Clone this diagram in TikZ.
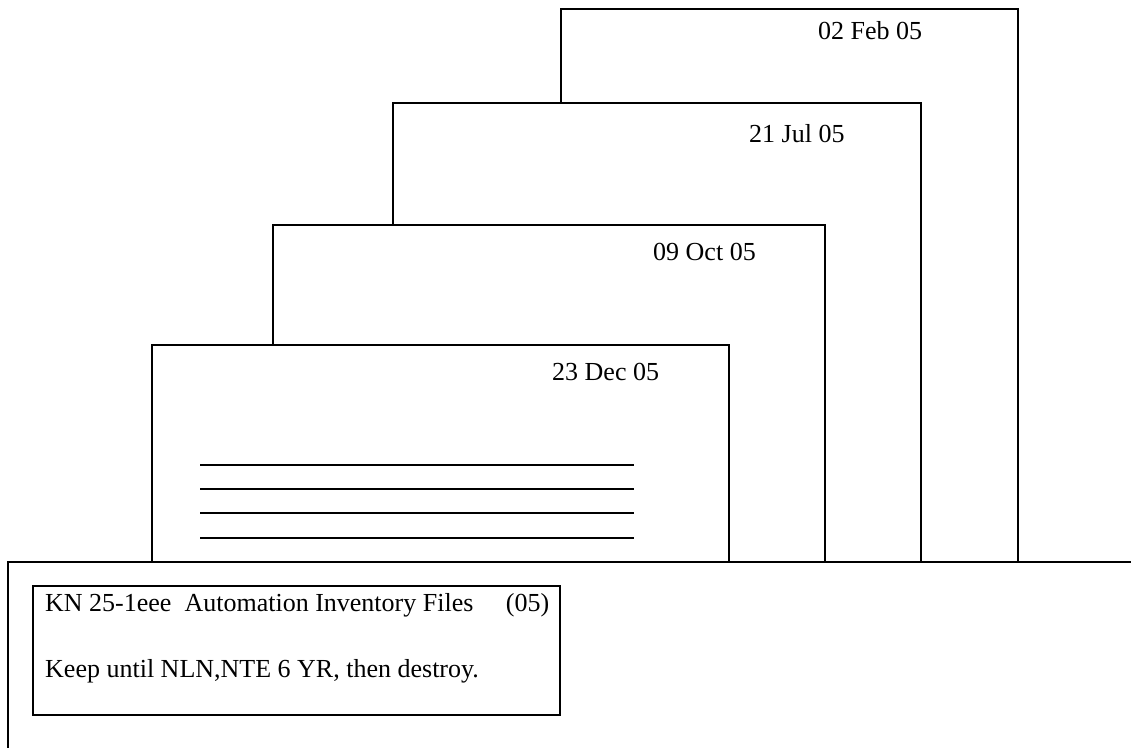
\documentclass[tikz,border=0pt]{standalone}
\usepackage{fontspec}
\setmainfont{Liberation Serif}
\tikzset{
  card/.style={draw, fill=white, line width=1.6pt, anchor=north west, inner sep=0pt, outer sep=0pt},
  datelbl/.style={anchor=west, inner sep=0pt, font=\fontsize{26}{31}\selectfont},
  rule/.style={line width=1.6pt},
  lbltext/.style={anchor=west, inner sep=0pt, font=\fontsize{26}{31}\selectfont},
  lblbox/.style={draw, line width=1.8pt, anchor=north west, inner sep=0pt, outer sep=0pt}
}
\begin{document}
\begin{tikzpicture}[x=1pt,y=-1pt]
\useasboundingbox (0,0) rectangle (1131,748);
% cards, back to front
\node[card, minimum width=457pt, minimum height=553pt] (c1) at (561,9) {};
\node[datelbl] (d1) at (818,31) {02 Feb 05};
\node[card, minimum width=528pt, minimum height=459pt] (c2) at (393,103) {};
\node[datelbl] (d2) at (749,134) {21 Jul 05};
\node[card, minimum width=552pt, minimum height=337pt] (c3) at (273,225) {};
\node[datelbl] (d3) at (653,252) {09 Oct 05};
\node[card, minimum width=577pt, minimum height=217pt] (c4) at (152,345) {};
\node[datelbl] (d4) at (552,372) {23 Dec 05};
% ruled lines on front card
\coordinate (l1a) at (200,465); \coordinate (l1b) at (634,465);
\coordinate (l2a) at (200,489); \coordinate (l2b) at (634,489);
\coordinate (l3a) at (200,513); \coordinate (l3b) at (634,513);
\coordinate (l4a) at (200,538); \coordinate (l4b) at (634,538);
\draw[rule] (l1a) -- (l1b);
\draw[rule] (l2a) -- (l2b);
\draw[rule] (l3a) -- (l3b);
\draw[rule] (l4a) -- (l4b);
% drawer
\coordinate (dr1) at (1131,562);
\coordinate (dr2) at (8,562);
\coordinate (dr3) at (8,748);
\draw[line width=1.8pt] (dr1) -- (dr2) -- (dr3);
% label
\node[lblbox, minimum width=527pt, minimum height=129pt] (lbl) at (33,586) {};
\node[lbltext] (t1) at (45,605) {KN 25-1eee\ \ Automation Inventory Files\ \ \ \ \ (05)};
\node[lbltext] (t2) at (45,671) {Keep until NLN,NTE 6 YR, then destroy.};
\end{tikzpicture}
\end{document}
